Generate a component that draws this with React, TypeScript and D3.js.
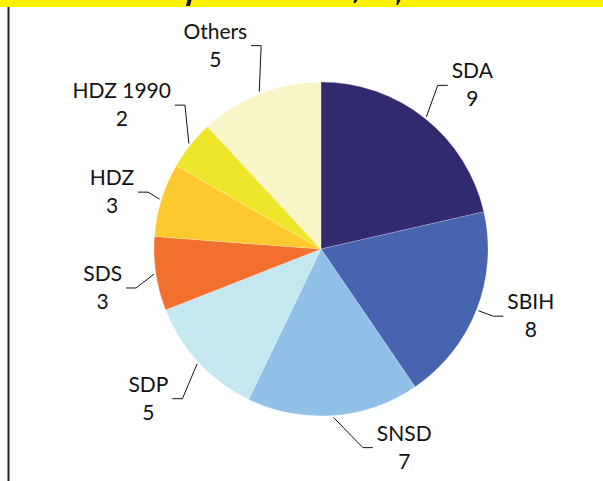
import React, { useEffect, useRef } from "react";
import * as d3 from "d3";

// ---- data ----
const parties: string[] = ["SDA", "SBIH", "SNSD", "SDP", "SDS", "HDZ", "HDZ 1990", "Others"];
const seats: number[] = [9, 8, 7, 5, 3, 3, 2, 5];
const sliceColors: string[] = [
  "#322a6e",
  "#4664b0",
  "#90c0e8",
  "#c5e7ef",
  "#f2702d",
  "#fec82f",
  "#ede62a",
  "#f8f6c9",
];

// label leader elbows (polar, degrees clockwise from 12 o'clock, radius in px)
const elbowAngles: number[] = [35.5, 111.3, 168.1, 222.8, 258.1, 288.2, 316.6, 343.6];
const elbowRadii: number[] = [201, 185, 203, 204, 189, 182, 198, 212];

const W = 603;
const H = 481;
const CX = 321;
const CY = 249;
const R = 167;
const FONT = "Lato, 'DejaVu Sans', sans-serif";

export default function App() {
  const ref = useRef<SVGSVGElement | null>(null);

  useEffect(() => {
    const svg = d3.select(ref.current);
    svg.selectAll("*").remove();

    svg.append("rect").attr("width", W).attr("height", H).attr("fill", "#fff");

    // top banner (cropped title: only descender fragments visible)
    svg.append("rect").attr("x", 0).attr("y", 0).attr("width", W).attr("height", 7).attr("fill", "#fff200");
    const frags: [number, number][][] = [
      [[187.5, 0], [191.5, 0], [190, 6], [186, 6]],
      [[354, 0], [357.5, 0], [355.5, 3], [353.5, 3]],
      [[397, 0], [400.5, 0], [398, 5], [396.5, 5]],
    ];
    frags.forEach((pts) =>
      svg
        .append("polygon")
        .attr("points", pts.map((p) => p.join(",")).join(" "))
        .attr("fill", "#111")
    );

    // left rule
    svg.append("line").attr("x1", 8.5).attr("x2", 8.5).attr("y1", 7).attr("y2", H).attr("stroke", "#222").attr("stroke-width", 2);

    const data = parties.map((p, i) => ({ party: p, value: seats[i], color: sliceColors[i] }));
    const pie = d3
      .pie<any>()
      .sort(null)
      .value((d: any) => d.value)
      .startAngle(0)
      .endAngle(2 * Math.PI);
    const arcs = pie(data);
    const arc = d3.arc<any>().innerRadius(0).outerRadius(R);

    const g = svg.append("g").attr("transform", `translate(${CX},${CY})`);
    g.selectAll("path.slice")
      .data(arcs)
      .join("path")
      .attr("class", "slice")
      .attr("d", arc as any)
      .attr("fill", (d: any) => d.data.color)
      .attr("stroke", "#ffffff")
      .attr("stroke-opacity", 0.35)
      .attr("stroke-width", 0.6);

    const polar = (angDeg: number, r: number): [number, number] => {
      const a = (angDeg * Math.PI) / 180;
      return [r * Math.sin(a), -r * Math.cos(a)];
    };

    arcs.forEach((d: any, i: number) => {
      const mid = ((d.startAngle + d.endAngle) / 2) * (180 / Math.PI);
      const start = polar(mid, R + 2);
      const elbow = polar(elbowAngles[i], elbowRadii[i]);
      const right = elbowAngles[i] < 180;
      const end: [number, number] = [elbow[0] + (right ? 10 : -10), elbow[1]];
      g.append("polyline")
        .attr("points", [start, elbow, end].map((p) => p.join(",")).join(" "))
        .attr("fill", "none")
        .attr("stroke", "#111")
        .attr("stroke-width", 1);

      const name = g
        .append("text")
        .attr("x", end[0] + (right ? 4 : -4))
        .attr("y", end[1] - 7)
        .attr("text-anchor", right ? "start" : "end")
        .attr("font-family", FONT)
        .attr("font-size", 21)
        .attr("fill", "#111")
        .text(d.data.party);
      const w = (name.node() as SVGTextElement).getComputedTextLength();
      const cx = right ? end[0] + 4 + w / 2 : end[0] - 4 - w / 2;
      g.append("text")
        .attr("x", cx)
        .attr("y", end[1] - 7 + 28)
        .attr("text-anchor", "middle")
        .attr("font-family", FONT)
        .attr("font-size", 21)
        .attr("fill", "#111")
        .text(String(d.data.value));
    });
  }, []);

  return (
    <div style={{ position: "absolute", left: 0, top: 0 }}>
      <svg ref={ref} width={W} height={H} style={{ display: "block" }} />
    </div>
  );
}
